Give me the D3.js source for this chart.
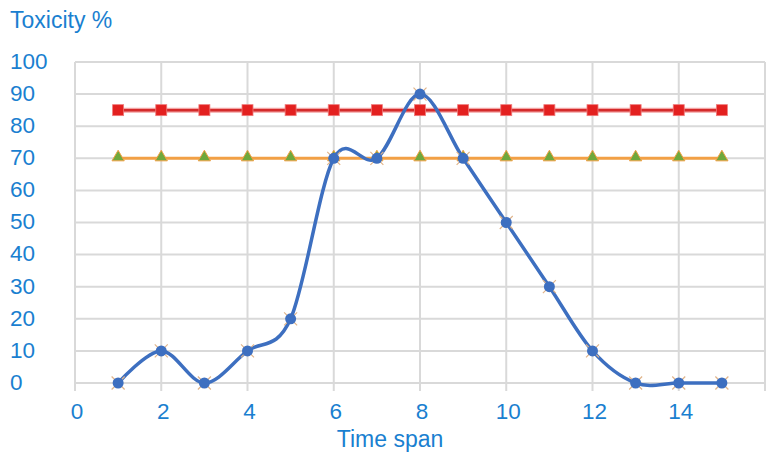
<!DOCTYPE html>
<html>
<head>
<script src="https://d3js.org/d3.v7.min.js"></script>
<style>
    body { margin: 0; background: #fff; }
    text { font-family: "Liberation Sans", Arial, sans-serif; fill: #1a7fd0; }
</style>
</head>
<body>
<script>
// data
var timeSpan = [1, 2, 3, 4, 5, 6, 7, 8, 9, 10, 11, 12, 13, 14, 15];
var toxicity = [0, 10, 0, 10, 20, 70, 70, 90, 70, 50, 30, 10, 0, 0, 0];
var upperLimit = [85, 85, 85, 85, 85, 85, 85, 85, 85, 85, 85, 85, 85, 85, 85];
var lowerLimit = [70, 70, 70, 70, 70, 70, 70, 70, 70, 70, 70, 70, 70, 70, 70];
var xTicks = [0, 2, 4, 6, 8, 10, 12, 14];
var yTicks = [0, 10, 20, 30, 40, 50, 60, 70, 80, 90, 100];

var width = 777, height = 457;
// plot box (window.top is taken, so own names)
var plotLeft = 75, plotRight = 765, plotTop = 62, plotBottom = 383;

var svg = d3.select('body')
    .append('svg')
    .attr('width', width)
    .attr('height', height);

var x = d3.scaleLinear().domain([0, 16]).range([plotLeft, plotRight]);
var y = d3.scaleLinear().domain([0, 100]).range([plotBottom, plotTop]);

// grid
var grid = svg.append('g').attr('stroke', '#d9d9d9').attr('stroke-width', 2);
grid.selectAll('.h')
    .data(yTicks)
    .enter()
    .append('line')
    .attr('x1', plotLeft).attr('x2', plotRight)
    .attr('y1', d => y(d)).attr('y2', d => y(d));
grid.selectAll('.v')
    .data(d3.range(0, 17, 2))
    .enter()
    .append('line')
    .attr('x1', d => x(d)).attr('x2', d => x(d))
    .attr('y1', plotTop).attr('y2', plotBottom + 8);

// axis labels
svg.append('g')
    .selectAll('text')
    .data(yTicks)
    .enter()
    .append('text')
    .attr('x', 10)
    .attr('y', d => y(d) - 1)
    .attr('dy', '0.35em')
    .style('font-size', '22.5px')
    .text(d => d);

svg.append('g')
    .selectAll('text')
    .data(xTicks)
    .enter()
    .append('text')
    .attr('x', d => x(d) + 2)
    .attr('y', 419)
    .attr('text-anchor', 'middle')
    .style('font-size', '22.5px')
    .text(d => d);

svg.append('text')
    .attr('x', 10).attr('y', 28)
    .style('font-size', '23px')
    .text('Toxicity %');

svg.append('text')
    .attr('x', 390).attr('y', 447)
    .attr('text-anchor', 'middle')
    .style('font-size', '23px')
    .text('Time span');

// limit lines
function series(vals) {
    return vals.map((v, i) => [timeSpan[i], v]);
}
var straight = d3.line().x(d => x(d[0])).y(d => y(d[1]));

svg.append('path')
    .datum(series(upperLimit))
    .attr('fill', 'none')
    .attr('stroke', '#f3a3a3')
    .attr('stroke-width', 5)
    .attr('d', straight);
svg.append('path')
    .datum(series(upperLimit))
    .attr('fill', 'none')
    .attr('stroke', '#d42a2a')
    .attr('stroke-width', 2.5)
    .attr('d', straight);
svg.append('g')
    .selectAll('rect')
    .data(series(upperLimit))
    .enter()
    .append('rect')
    .attr('x', d => x(d[0]) - 5.5)
    .attr('y', d => y(d[1]) - 5.5)
    .attr('width', 11).attr('height', 11)
    .attr('fill', '#e3201f')
    .attr('stroke', '#f07a7a')
    .attr('stroke-width', 0.8);

svg.append('path')
    .datum(series(lowerLimit))
    .attr('fill', 'none')
    .attr('stroke', '#f2a045')
    .attr('stroke-width', 3)
    .attr('d', straight);
var tri = d3.symbol().type(d3.symbolTriangle).size(65);
svg.append('g')
    .selectAll('path')
    .data(series(lowerLimit))
    .enter()
    .append('path')
    .attr('transform', d => 'translate(' + x(d[0]) + ',' + (y(d[1]) - 1) + ')')
    .attr('d', tri)
    .attr('fill', '#6fa83c')
    .attr('stroke', '#f2a045')
    .attr('stroke-width', 1);

// toxicity curve
var smooth = d3.line().x(d => x(d[0])).y(d => y(d[1])).curve(d3.curveCardinal.tension(0));
svg.append('path')
    .datum(series(toxicity))
    .attr('fill', 'none')
    .attr('stroke', '#3d6fc0')
    .attr('stroke-width', 3.5)
    .attr('d', smooth);

var pts = svg.append('g').selectAll('g')
    .data(series(toxicity))
    .enter()
    .append('g')
    .attr('transform', d => 'translate(' + x(d[0]) + ',' + y(d[1]) + ')');
pts.append('path')
    .attr('d', 'M-6.5,-6.5L6.5,6.5M-6.5,6.5L6.5,-6.5')
    .attr('stroke', '#e0b48a')
    .attr('stroke-width', 1.2);
pts.append('circle')
    .attr('r', 5.5)
    .attr('fill', '#3d6fc0');
</script>
</body>
</html>
